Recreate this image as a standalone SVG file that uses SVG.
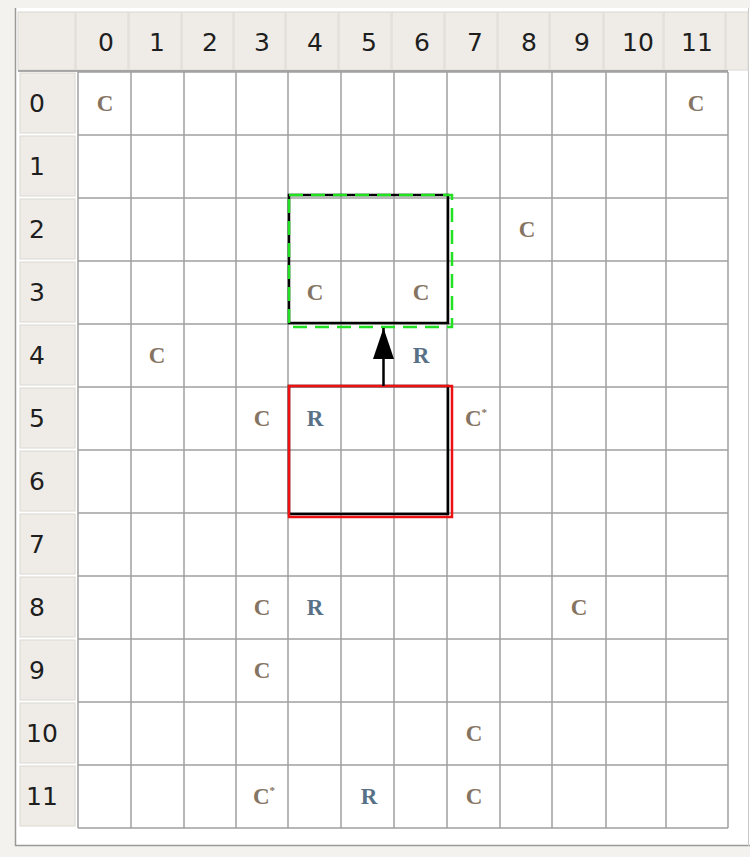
<svg xmlns="http://www.w3.org/2000/svg" width="750" height="857" viewBox="0 0 750 857">
<style>
.hd{fill:#efece7;stroke:#dcd8d2;stroke-width:1}
.hn{font-family:"DejaVu Sans",sans-serif;font-size:25px;fill:#1e1e1e;text-anchor:middle}
.gl{stroke:#a0a0a0;stroke-width:1.5;fill:none}
.c{font-family:"Liberation Serif",serif;font-weight:bold;font-size:23px;fill:#857462;text-anchor:middle}
.r{font-family:"Liberation Serif",serif;font-weight:bold;font-size:23px;fill:#587186;text-anchor:middle}
.sup{font-size:11px}
</style>
<defs>
<marker id="ah" markerWidth="31" markerHeight="21" refX="31" refY="10.5" orient="auto" markerUnits="userSpaceOnUse" viewBox="0 0 31 21">
<polygon points="0,0 31,10.5 0,21" fill="#000"/>
</marker>
</defs>
<rect x="0" y="0" width="750" height="857" fill="#f4f2ee"/>
<rect x="15" y="8" width="735" height="838" fill="#ffffff"/>
<line x1="15.5" y1="8" x2="15.5" y2="846" stroke="#9a9a9a" stroke-width="1.5"/>
<line x1="15" y1="845.5" x2="750" y2="845.5" stroke="#9a9a9a" stroke-width="1.5"/>
<line x1="748.5" y1="8" x2="748.5" y2="846" stroke="#c8c8c8" stroke-width="1"/>
<g id="headers">
<rect class="hd" x="18" y="12" width="57" height="58"/>
<rect class="hd" x="76" y="12" width="52" height="58"/>
<rect class="hd" x="129" y="12" width="52" height="58"/>
<rect class="hd" x="182" y="12" width="51" height="58"/>
<rect class="hd" x="234" y="12" width="51" height="58"/>
<rect class="hd" x="286" y="12" width="52" height="58"/>
<rect class="hd" x="339" y="12" width="52" height="58"/>
<rect class="hd" x="392" y="12" width="52" height="58"/>
<rect class="hd" x="445" y="12" width="52" height="58"/>
<rect class="hd" x="498" y="12" width="51" height="58"/>
<rect class="hd" x="550" y="12" width="53" height="58"/>
<rect class="hd" x="604" y="12" width="59" height="58"/>
<rect class="hd" x="664" y="12" width="61" height="58"/>
<rect class="hd" x="726" y="12" width="22" height="58"/>
<line x1="18" y1="71" x2="728" y2="71" stroke="#8e8e8e" stroke-width="1.5"/>
<text class="hn" x="106" y="51">0</text>
<text class="hn" x="157" y="51">1</text>
<text class="hn" x="210" y="51">2</text>
<text class="hn" x="262" y="51">3</text>
<text class="hn" x="315" y="51">4</text>
<text class="hn" x="369" y="51">5</text>
<text class="hn" x="422" y="51">6</text>
<text class="hn" x="475" y="51">7</text>
<text class="hn" x="529" y="51">8</text>
<text class="hn" x="582" y="51">9</text>
<text class="hn" x="638" y="51">10</text>
<text class="hn" x="697" y="51">11</text>
<rect class="hd" x="20" y="73" width="55" height="60"/>
<rect class="hd" x="20" y="136" width="55" height="60"/>
<rect class="hd" x="20" y="199" width="55" height="60"/>
<rect class="hd" x="20" y="262" width="55" height="60"/>
<rect class="hd" x="20" y="325" width="55" height="60"/>
<rect class="hd" x="20" y="388" width="55" height="60"/>
<rect class="hd" x="20" y="451" width="55" height="60"/>
<rect class="hd" x="20" y="514" width="55" height="60"/>
<rect class="hd" x="20" y="577" width="55" height="60"/>
<rect class="hd" x="20" y="640" width="55" height="60"/>
<rect class="hd" x="20" y="703" width="55" height="60"/>
<rect class="hd" x="20" y="766" width="55" height="60"/>
<g class="hn" style="text-anchor:start">
<text x="29" y="112">0</text>
<text x="29" y="175">1</text>
<text x="29" y="238">2</text>
<text x="29" y="301">3</text>
<text x="29" y="364">4</text>
<text x="29" y="427">5</text>
<text x="29" y="490">6</text>
<text x="29" y="553">7</text>
<text x="29" y="616">8</text>
<text x="29" y="679">9</text>
<text x="26" y="742">10</text>
<text x="26" y="805">11</text>
</g>
</g>
<g id="grid" class="gl">
<path d="M78 72V828M131 72V828M184 72V828M236 72V828M288 72V828M341 72V828M394 72V828M447 72V828M500 72V828M552 72V828M606 72V828M666 72V828M728 72V828"/>
<path d="M78 72H728M78 135H728M78 198H728M78 261H728M78 324H728M78 387H728M78 450H728M78 513H728M78 576H728M78 639H728M78 702H728M78 765H728M78 828H728"/>
</g>
<g id="labels">
<text class="c" x="105" y="111">C</text>
<text class="c" x="696" y="111">C</text>
<text class="c" x="527" y="237">C</text>
<text class="c" x="315" y="300">C</text>
<text class="c" x="421" y="300">C</text>
<text class="c" x="157" y="363">C</text>
<text class="r" x="421" y="363">R</text>
<text class="c" x="262" y="426">C</text>
<text class="r" x="315" y="426">R</text>
<text class="c" x="476" y="426">C<tspan class="sup" dy="-10">*</tspan></text>
<text class="c" x="262" y="615">C</text>
<text class="r" x="315" y="615">R</text>
<text class="c" x="579" y="615">C</text>
<text class="c" x="262" y="678">C</text>
<text class="c" x="474" y="741">C</text>
<text class="c" x="264" y="804">C<tspan class="sup" dy="-10">*</tspan></text>
<text class="r" x="369" y="804">R</text>
<text class="c" x="474" y="804">C</text>
</g>
<g id="target">
<rect x="289" y="195" width="159" height="128" fill="none" stroke="#000" stroke-width="2.5"/>
<rect x="289" y="195" width="163" height="132" fill="none" stroke="#22e022" stroke-width="2.5" stroke-dasharray="14,8"/>
</g>
<g id="source">
<rect x="289" y="386" width="159" height="128" fill="none" stroke="#000" stroke-width="2.5"/>
<rect x="289" y="386" width="163" height="131" fill="none" stroke="#ee1111" stroke-width="2.5"/>
</g>
<g id="connectors">
<line x1="383.5" y1="386" x2="383.5" y2="328" stroke="#000" stroke-width="2.5" marker-end="url(#ah)"/>
</g>
</svg>
